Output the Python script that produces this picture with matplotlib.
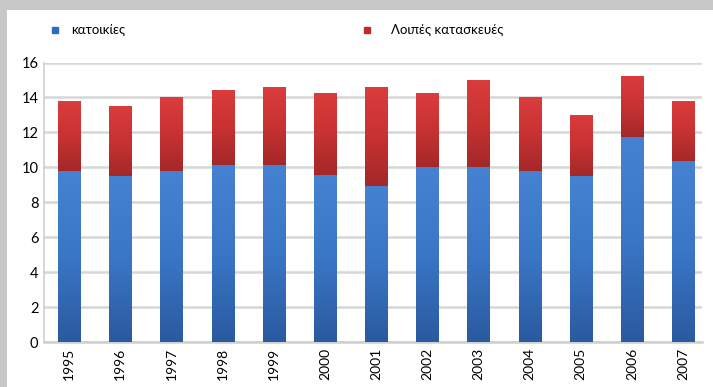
import numpy as np
import matplotlib
matplotlib.use("Agg")
import matplotlib.pyplot as plt
from matplotlib.colors import LinearSegmentedColormap
from matplotlib.lines import Line2D

years = ["1995", "1996", "1997", "1998", "1999", "2000", "2001",
         "2002", "2003", "2004", "2005", "2006", "2007"]
housing = [9.8, 9.5, 9.8, 10.15, 10.15, 9.55, 8.95, 10.0, 10.0, 9.8, 9.5, 11.75, 10.37]
other = [4.0, 4.0, 4.2, 4.25, 4.45, 4.7, 5.65, 4.23, 5.0, 4.2, 3.5, 3.45, 3.4]
series_names = ["κατοικίες", "Λοιπές κατασκευές"]
yticks = [0, 2, 4, 6, 8, 10, 12, 14, 16]

plt.rcParams['font.family'] = ['Lato', 'Noto Sans', 'DejaVu Sans']

W, H = 713, 387
fig = plt.figure(figsize=(W / 100, H / 100), dpi=100)
fig.patch.set_facecolor("#c8c8c8")
# white panel
fig.add_artist(plt.Rectangle((7 / W, 0), 1 - 7 / W, 1 - 10 / H,
                             transform=fig.transFigure, facecolor="white",
                             edgecolor="none", zorder=0))

ax = fig.add_axes([44 / W, 1 - 342 / H, (702 - 44) / W, (342 - 62.5) / H])
ax.set_facecolor("none")

x = np.arange(len(years))
width = 0.43
b1 = ax.bar(x, housing, width, color="#3b78c8", zorder=2)
b2 = ax.bar(x, other, width, bottom=housing, color="#c83232", zorder=2)

blue_cmap = LinearSegmentedColormap.from_list("b", ["#2a5a9f", "#3a76c6", "#4583d2"])
red_cmap = LinearSegmentedColormap.from_list("r", ["#a42828", "#c83232", "#db3c3c"])
grad = np.linspace(0, 1, 256).reshape(-1, 1)
for bars, cmap in ((b1, blue_cmap), (b2, red_cmap)):
    for p in bars:
        x0, y0 = p.get_x(), p.get_y()
        w, h = p.get_width(), p.get_height()
        im = ax.imshow(grad, extent=(x0, x0 + w, y0, y0 + h), origin="lower",
                       cmap=cmap, aspect="auto", zorder=3)
        im.set_clip_path(p)

ax.set_xlim(-0.49, 12.37)
ax.set_ylim(0, 16)
ax.set_yticks(yticks)
ax.set_yticklabels([str(v) for v in yticks], fontsize=10.5)
ax.set_xticks(x)
ax.set_xticklabels(years, rotation=90, fontsize=10)
ax.tick_params(length=0, pad=4)
ax.grid(axis="y", color="#d6d6d6", linewidth=1.8, zorder=1)
for s in ("top", "right"):
    ax.spines[s].set_visible(False)
ax.spines["left"].set_color("#cfcfcf")
ax.spines["bottom"].set_color("#cfcfcf")
ax.spines["left"].set_linewidth(1.2)
ax.spines["bottom"].set_linewidth(1.8)

# legend drawn manually at the reference positions
leg_y = 1 - 30 / H
fig.add_artist(Line2D([55 / W], [leg_y], marker="s", linestyle="none",
                      color="#2f6bbd", markersize=5, transform=fig.transFigure))
fig.text(71 / W, leg_y, series_names[0], fontsize=9.5, va="center", ha="left")
fig.add_artist(Line2D([367 / W], [leg_y], marker="s", linestyle="none",
                      color="#c02a2a", markersize=5, transform=fig.transFigure))
fig.text(391 / W, leg_y, series_names[1], fontsize=9.5, va="center", ha="left")

fig.savefig("out.png", dpi=100, facecolor=fig.get_facecolor())
